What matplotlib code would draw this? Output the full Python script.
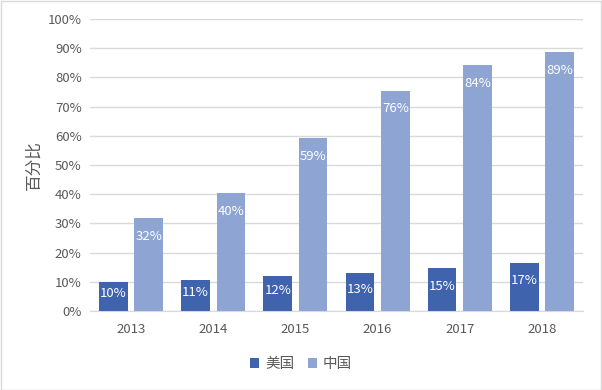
import numpy as np
import matplotlib.pyplot as plt
from matplotlib.patches import Rectangle

plt.rcParams['font.family'] = ['Noto Sans CJK SC', 'DejaVu Sans']

years = ['2013', '2014', '2015', '2016', '2017', '2018']
usa = [0.10, 0.106, 0.12, 0.13, 0.147, 0.166]
china = [0.318, 0.404, 0.592, 0.755, 0.842, 0.887]
series_names = ['美国', '中国']

c_usa = '#3F63AD'
c_china = '#8EA5D3'
grey = '#595959'
grid_c = '#D9D9D9'

fig = plt.figure(figsize=(6.02, 3.90), dpi=100)
ax = fig.add_axes([0.1495, 0.2026, 0.8189, 0.7487])

x = np.arange(len(years))
w = 0.35
off = 0.215
b1 = ax.bar(x - off, usa, w, color=c_usa, label=series_names[0], zorder=3)
b2 = ax.bar(x + off, china, w, color=c_china, label=series_names[1], zorder=3)

# labels near the top, inside the bar
for bars, vals in ((b1, usa), (b2, china)):
    for b, v in zip(bars, vals):
        ypos = max(v - 0.062, v / 2 + 0.01)
        ax.text(b.get_x() + b.get_width() / 2, ypos, '{:.0%}'.format(v),
                ha='center', va='center', color='white', fontsize=9.5, zorder=4)

ax.set_xlim(-0.5, len(years) - 0.5)
ax.set_ylim(0, 1.0)
ax.set_yticks(np.arange(0, 1.01, 0.1))
ax.set_yticklabels(['{:.0f}%'.format(t * 100) for t in np.arange(0, 1.01, 0.1)])
ax.set_xticks(x)
ax.set_xticklabels(years)
ax.tick_params(axis='both', length=0, colors=grey, labelsize=9.5)
ax.tick_params(axis='x', pad=9)
ax.tick_params(axis='y', pad=6)
ax.grid(axis='y', color=grid_c, linewidth=1, zorder=0)
for s in ['top', 'right', 'left']:
    ax.spines[s].set_visible(False)
ax.spines['bottom'].set_color(grid_c)

ax.set_ylabel('百分比', fontsize=12, color=grey, labelpad=4)

fig.legend(handles=[b1, b2], loc='center', bbox_to_anchor=(0.5, 0.067), ncol=2,
           frameon=False, fontsize=10.5, handlelength=0.65, handleheight=0.65,
           handletextpad=0.4, columnspacing=0.9, labelcolor=grey)

# chart border
fig.patches.append(Rectangle((0.001, 0.001), 0.997, 0.996, transform=fig.transFigure,
                             fill=False, edgecolor=grid_c, linewidth=1))

plt.savefig('out.png', dpi=100)
plt.close()
